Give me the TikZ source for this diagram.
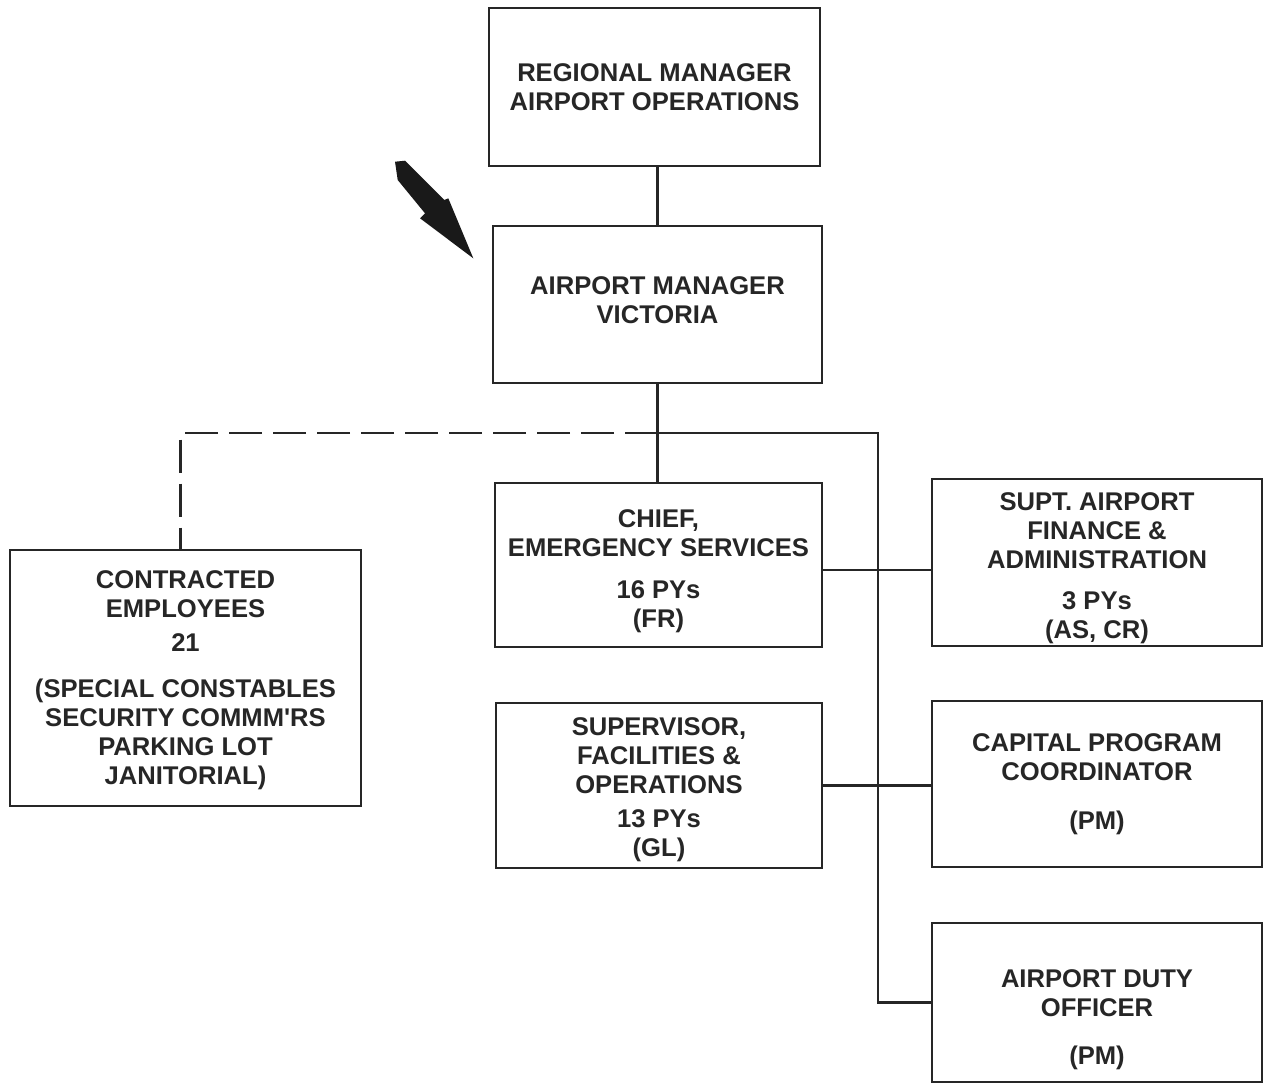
\documentclass[tikz,border=0pt]{standalone}
\usepackage{fontspec}
\setmainfont{Liberation Sans}[Ligatures=TeXOff]
\begin{document}
\begin{tikzpicture}[x=1pt,y=-1pt,
  line width=2.4pt,
  box/.style={draw=black!85, line width=2.6pt, inner sep=0pt},
  txt/.style={align=center, inner sep=0pt, text=black!85,
    font=\fontsize{25.6}{29}\selectfont\bfseries},
  link/.style={draw=black!85, line width=2.4pt},
  dashlink/.style={draw=black!85, line width=2.4pt, dash pattern=on 33pt off 11pt}]
\useasboundingbox (0,0) rectangle (1265,1087);

% boxes
\node[box, minimum width=331, minimum height=158] (reg) at (654.5,87) {};
\node[box, minimum width=329, minimum height=157] (mgr) at (657.5,304.5) {};
\node[box, minimum width=327, minimum height=164] (chief) at (658.5,565) {};
\node[box, minimum width=330, minimum height=167] (supt) at (1097,562.5) {};
\node[box, minimum width=351, minimum height=256] (contr) at (185.5,678) {};
\node[box, minimum width=326, minimum height=165] (sup) at (659,785.5) {};
\node[box, minimum width=330, minimum height=166] (cap) at (1097,784) {};
\node[box, minimum width=330, minimum height=159] (duty) at (1097,1002.5) {};

% box texts
\node[txt] (regT) at (reg) {REGIONAL MANAGER\\AIRPORT OPERATIONS};
\node[txt, yshift=4] (mgrT) at (mgr) {AIRPORT MANAGER\\VICTORIA};
\node[txt, yshift=-6] (chiefT) at (chief) {CHIEF,\\EMERGENCY SERVICES\\[13pt]16 PYs\\(FR)};
\node[txt, yshift=-6] (suptT) at (supt) {SUPT. AIRPORT\\FINANCE \&\\ADMINISTRATION\\[12pt]3 PYs\\(AS, CR)};
\node[txt, yshift=-2] (contrT) at (contr) {CONTRACTED\\EMPLOYEES\\[5pt]21\\[17pt](SPECIAL CONSTABLES\\SECURITY COMMM'RS\\PARKING LOT\\JANITORIAL)};
\node[txt, yshift=-4] (supT) at (sup) {SUPERVISOR,\\FACILITIES \&\\OPERATIONS\\[5pt]13 PYs\\(GL)};
\node[txt] (capT) at (cap) {CAPITAL PROGRAM\\COORDINATOR\\[20pt](PM)};
\node[txt, yshift=-17] (dutyT) at (duty) {AIRPORT DUTY\\OFFICER\\[19pt](PM)};

% connectors
\coordinate (j) at (658,433);
\coordinate (bus) at (878,433);
\draw[link] (mgr.north) -- (mgr.north |- reg.south);
\draw[link] (mgr.south) -- (mgr.south |- chief.north);
\draw[link] (j) -- (bus) -- (bus |- duty.west) -- (duty.west);
\draw[link] ([yshift=-5pt]chief.east) -- ([yshift=-5pt]chief.east -| supt.west);
\draw[link] (sup.east) -- (sup.east -| cap.west);
\draw[dashlink] (j) -| ([xshift=-5pt]contr.north);

% pointer arrow
\fill[black!90] (395,161.7) -- (405,160.7) -- (444.3,200) -- (448.3,198.3)
  -- (473.3,258.3) -- (420,218.3) -- (425,213.3) -- (397.7,180) -- cycle;
\end{tikzpicture}
\end{document}
